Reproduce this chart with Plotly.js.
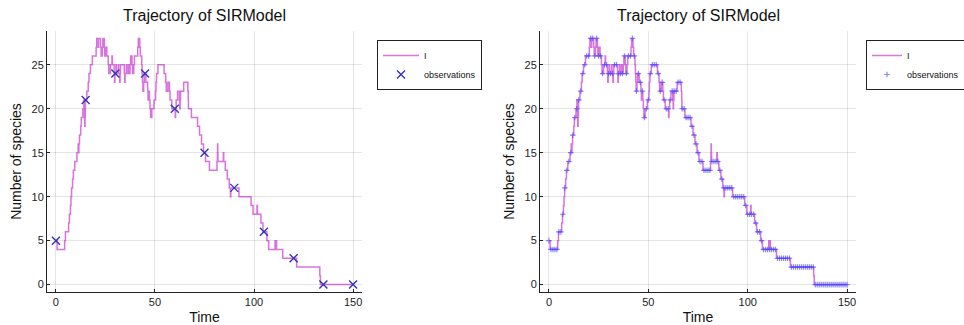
<!DOCTYPE html>
<html>
<head>
<meta charset="utf-8">
<script src="https://cdn.plot.ly/plotly-3.0.1.min.js"></script>
<style>html,body{margin:0;padding:0;background:#fff}#chart{width:964px;height:325px}</style>
</head>
<body>
<div id="chart"></div>
<script>
// Trajectory of I (step function): event times and values
const trajT = [0,0.6,4.4,4.8,6.4,6.8,7.3,7.6,7.9,8.4,8.8,9.5,10.6,11.2,11.4,11.6,11.9,12.5,12.8,13.6,14.1,14.2,14.4,14.5,14.7,14.8,14.9,15.6,16.3,16.7,17.4,18.4,20.3,20.6,21.4,21.5,22.5,22.8,23.4,23.7,24.4,24.6,25.3,25.7,26.4,26.7,27.5,28.3,28.5,29.4,29.6,29.8,30.3,30.5,31.5,31.7,32.2,32.4,32.6,34.5,34.7,34.9,35.5,35.7,36.5,36.7,37.4,37.7,38.4,38.7,39.3,39.6,41.3,41.6,42.3,42.6,43.3,43.5,43.7,43.9,44.3,44.6,45.4,46.3,46.5,46.7,47.2,47.5,47.8,48.4,49.5,50.3,50.5,50.8,51.5,54.6,55.4,55.7,56.5,57.3,57.6,58.5,60.2,60.4,60.7,61.4,62.3,62.5,62.7,62.9,64.5,66.6,66.8,66.9,68.4,71.5,72.5,73.5,74.5,75.5,77.5,81.3,81.5,81.6,81.7,81.8,84.5,84.7,85.5,86.5,87.5,88.1,88.3,92.4,98.5,99.5,101.5,101.7,103.5,104.5,106.5,107.4,110.6,110.8,111.2,111.4,114.5,121.5,133.2,133.5,150];
const trajI = [5,4,5,6,7,8,9,10,11,12,13,14,15,16,15,16,17,18,19,20,21,20,19,18,19,20,21,22,23,24,25,26,27,28,27,28,27,26,27,28,27,26,27,26,25,24,25,26,25,24,23,24,25,24,25,24,23,24,25,24,23,24,25,24,25,24,25,26,25,24,25,26,27,28,27,26,25,24,23,22,23,24,23,22,21,22,21,20,19,20,21,22,23,24,25,24,23,22,23,22,21,20,19,20,21,22,21,20,21,22,23,22,21,20,19,18,17,16,15,14,13,14,15,16,15,14,15,14,13,12,11,10,11,10,9,8,9,8,7,6,5,4,5,4,5,4,3,2,1,0,0];

// Left panel: observations every 15 time units
const obsT = [0,15,30,45,60,75,90,105,120,135,150];
const obsI = [5,21,24,24,20,15,11,6,3,0,0];

// Right panel: observations at every integer time 0..150
const obsAllI = [5,4,4,4,4,6,6,8,11,13,14,15,17,19,20,21,22,24,25,26,26,28,28,26,28,26,26,24,25,25,24,24,24,25,25,24,24,24,26,24,26,26,28,26,22,24,23,22,19,20,21,24,25,25,25,24,22,23,21,20,20,21,22,22,22,23,23,20,20,19,19,19,18,17,16,15,14,14,13,13,13,13,14,14,14,14,13,12,11,11,11,11,11,10,10,10,10,10,10,9,8,8,8,8,7,6,6,5,4,4,4,4,4,4,4,3,3,3,3,3,3,3,2,2,2,2,2,2,2,2,2,2,2,2,0,0,0,0,0,0,0,0,0,0,0,0,0,0,0,0,0];
const obsAllT = obsAllI.map((_, i) => i);

const xTicks = [0,50,100,150];
const yTicks = [0,5,10,15,20,25];
const titleText = 'Trajectory of SIRModel';

const lineColor = 'rgba(195,40,205,0.65)';
const FONT = 'Liberation Sans, Arial, sans-serif';

const traces = [
  {x: trajT, y: trajI, type: 'scatter', mode: 'lines', line: {shape: 'hv', color: lineColor, width: 1.5},
   name: 'I', xaxis: 'x', yaxis: 'y', legend: 'legend'},
  {x: obsT, y: obsI, type: 'scatter', mode: 'markers', name: 'observations',
   marker: {symbol: 'x-thin-open', size: 8, color: '#3434b4', line: {width: 1.4, color: '#3434b4'}},
   xaxis: 'x', yaxis: 'y', legend: 'legend'},
  {x: trajT, y: trajI, type: 'scatter', mode: 'lines', line: {shape: 'hv', color: lineColor, width: 1.5},
   name: 'I', xaxis: 'x2', yaxis: 'y2', legend: 'legend2'},
  {x: obsAllT, y: obsAllI, type: 'scatter', mode: 'markers', name: 'observations',
   marker: {symbol: 'cross-thin-open', size: 4, color: 'rgba(70,70,255,0.65)', line: {width: 1.2, color: 'rgba(70,70,255,0.65)'}},
   xaxis: 'x2', yaxis: 'y2', legend: 'legend2'}
];

function xa(domain, anchor) {
  return {domain: domain, anchor: anchor, range: [-4.5, 154.5], tickvals: xTicks, ticktext: xTicks.map(String),
    showgrid: true, gridcolor: 'rgba(0,0,0,0.1)', gridwidth: 1, zeroline: false,
    showline: true, linecolor: '#222', linewidth: 1, ticks: 'inside', ticklen: 3, tickcolor: '#222',
    tickfont: {family: FONT, size: 11, color: '#222'},
    title: {text: 'Time', font: {family: FONT, size: 14, color: '#111'}, standoff: 4}};
}
function ya(domain, anchor) {
  return {domain: domain, anchor: anchor, range: [-0.84, 28.84], tickvals: yTicks, ticktext: yTicks.map(String),
    showgrid: true, gridcolor: 'rgba(0,0,0,0.1)', gridwidth: 1, zeroline: false,
    showline: true, linecolor: '#222', linewidth: 1, ticks: 'inside', ticklen: 3, tickcolor: '#222',
    tickfont: {family: FONT, size: 11, color: '#222'},
    title: {text: 'Number of species', font: {family: FONT, size: 14, color: '#111'}, standoff: 6}};
}

const yDom = [1 - 292/325, 1 - 31/325];
const legendStyle = (x, iw) => ({x: x, y: 1 - 40/325, xanchor: 'left', yanchor: 'top', xref: 'paper', yref: 'paper',
  bordercolor: '#222', borderwidth: 1, bgcolor: '#fff', font: {family: FONT, size: 9, color: '#111'},
  itemwidth: iw, tracegroupgap: 0});

const layout = {
  width: 964, height: 325,
  margin: {l: 0, r: 0, t: 0, b: 0, autoexpand: false},
  paper_bgcolor: '#fff', plot_bgcolor: '#fff',
  showlegend: true,
  xaxis: xa([47/964, 362/964], 'y'),
  yaxis: ya(yDom, 'x'),
  xaxis2: xa([540/964, 856/964], 'y2'),
  yaxis2: ya(yDom, 'x2'),
  legend: legendStyle(377/964, 36),
  legend2: legendStyle(866/964, 30),
  annotations: [
    {text: titleText, x: (47 + 362) / 2 / 964, y: 1 - 15/325, xref: 'paper', yref: 'paper', showarrow: false,
     xanchor: 'center', yanchor: 'middle', font: {family: FONT, size: 16, color: '#111'}},
    {text: titleText, x: (540 + 856) / 2 / 964, y: 1 - 15/325, xref: 'paper', yref: 'paper', showarrow: false,
     xanchor: 'center', yanchor: 'middle', font: {family: FONT, size: 16, color: '#111'}}
  ]
};

Plotly.newPlot('chart', traces, layout, {displayModeBar: false, staticPlot: true});
</script>
</body>
</html>
